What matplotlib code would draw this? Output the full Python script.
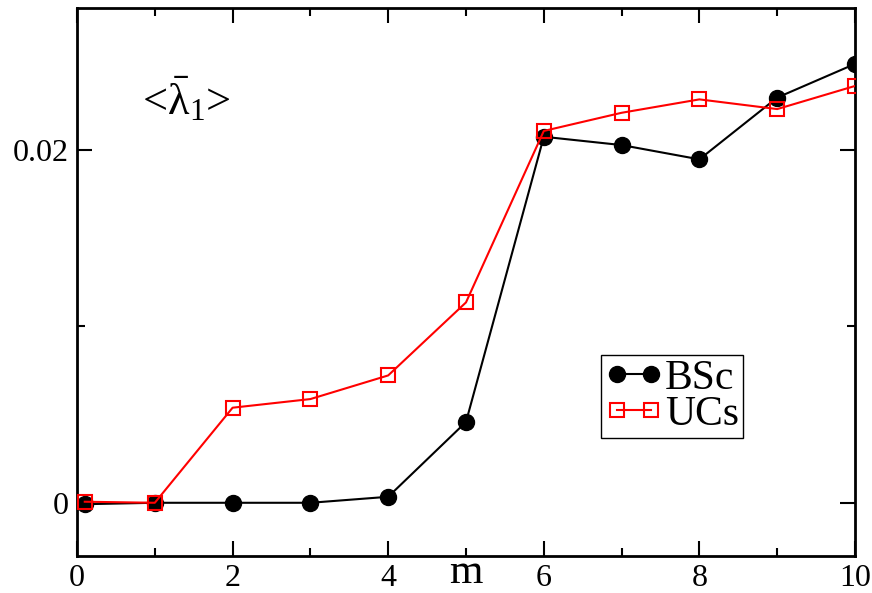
import matplotlib
matplotlib.use("Agg")
import matplotlib.pyplot as plt
from matplotlib.ticker import MultipleLocator, FixedLocator

plt.rcParams['font.family'] = ['Liberation Serif', 'DejaVu Serif']
plt.rcParams['mathtext.fontset'] = 'custom'
plt.rcParams['mathtext.rm'] = 'Liberation Serif'
plt.rcParams['mathtext.it'] = 'Liberation Serif:italic'

# m values and mean lowest eigenvalue for the two ensembles
m_vals = [0.1, 1, 2, 3, 4, 5, 6, 7, 8, 9, 10]
bsc_vals = [-0.00008, 0.0, 0.0, 0.0, 0.00034, 0.00458, 0.02075, 0.02028, 0.01947, 0.02297, 0.02488]
ucs_vals = [0.00006, 0.0, 0.00539, 0.00588, 0.00722, 0.01136, 0.02108, 0.02211, 0.02287, 0.02232, 0.02363]

x_ticks = [0, 2, 4, 6, 8, 10]
y_ticks = [0, 0.02]
y_tick_labels = ['0', '0.02']

fig = plt.figure(figsize=(8.72, 5.93), dpi=100)
ax = fig.add_axes([0.0883, 0.0629, 0.8922, 0.9236])

ax.plot(m_vals, bsc_vals, color='black', lw=1.5, marker='o', ms=11.5,
        mfc='black', mec='black', label='BSc', zorder=3)
ax.plot(m_vals, ucs_vals, color='#ff0000', lw=1.5, marker='s', ms=9.5,
        mfc='none', mec='#ff0000', mew=1.5, label='UCs', zorder=4)

ax.set_xlim(0, 10)
ax.set_ylim(-0.003, 0.02805)

ax.xaxis.set_major_locator(FixedLocator(x_ticks))
ax.xaxis.set_minor_locator(MultipleLocator(1))
ax.yaxis.set_major_locator(FixedLocator(y_ticks))
ax.set_yticklabels(y_tick_labels)
ax.yaxis.set_minor_locator(MultipleLocator(0.01))

ax.tick_params(which='both', direction='in', top=True, right=True,
               width=1.5, labelsize=23)
ax.tick_params(which='major', length=11, pad=6)
ax.tick_params(which='minor', length=5.5)
for s in ax.spines.values():
    s.set_linewidth(2)

ax.set_xlabel('m', fontsize=31, va='bottom')
ax.xaxis.set_label_coords(0.5, -0.0663)

ax.text(0.083, 0.805, r'<$\bar{\mathrm{\lambda}}_{1}$>',
        transform=ax.transAxes, fontsize=32, ha='left', va='baseline')

leg = ax.legend(loc='lower left', bbox_to_anchor=(0.673, 0.215), fontsize=30,
                numpoints=2, handlelength=1.4, handletextpad=0.05,
                labelspacing=-0.06, borderpad=0.1, borderaxespad=0,
                fancybox=False, frameon=True, framealpha=1)
leg.get_frame().set_edgecolor('black')
leg.get_frame().set_linewidth(1.0)

fig.savefig('out.png', dpi=100)
